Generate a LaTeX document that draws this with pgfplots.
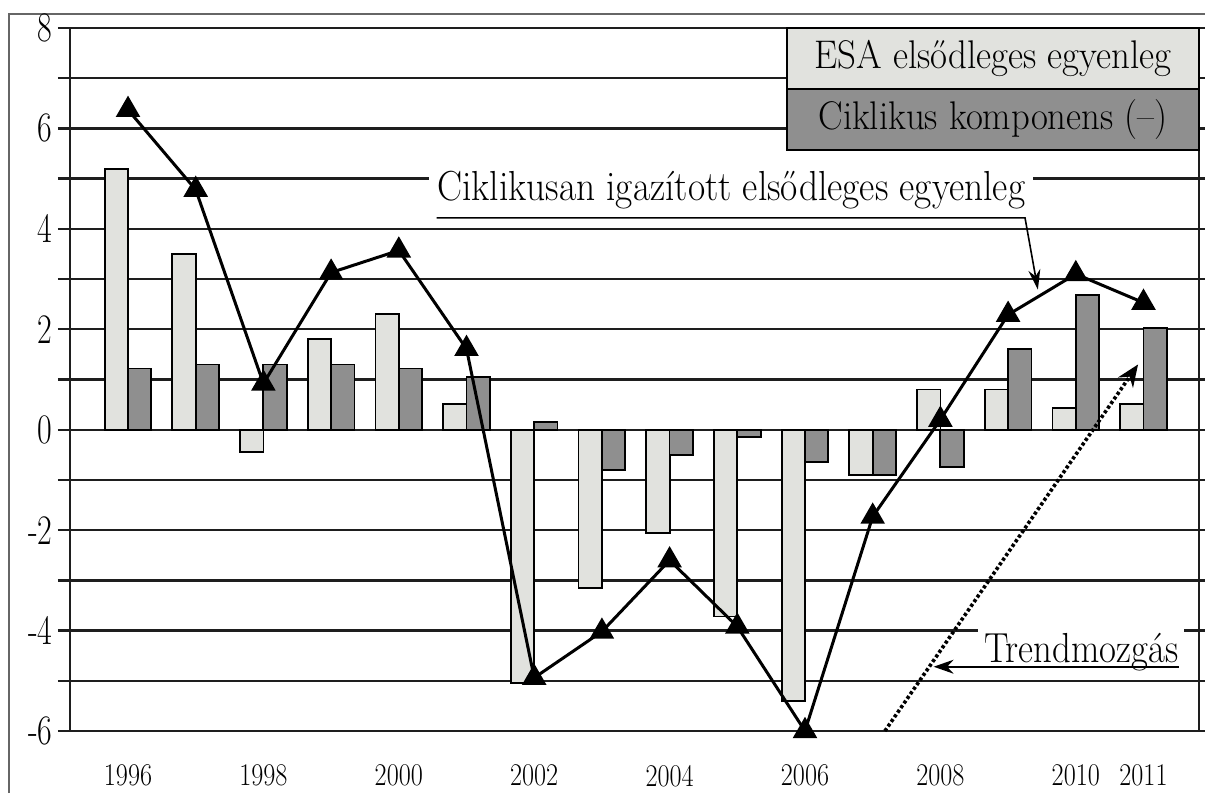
\documentclass[border=0pt]{standalone}
\usepackage{fontspec}
\usepackage{graphicx}
\usepackage{pgfplots}
\pgfplotsset{compat=1.18}
\usetikzlibrary{arrows.meta}
\definecolor{lightbar}{RGB}{225,226,222}
\definecolor{darkbar}{RGB}{143,143,143}
\definecolor{gridc}{RGB}{30,30,30}
\newcommand\bigtxt[3]{\resizebox{#1}{\height}{\fontsize{#2}{24}\selectfont\addfontfeatures{FakeBold=0.3}#3}}
\newcommand\yl[1]{\scalebox{0.76}[1]{\fontsize{21}{24}\selectfont\addfontfeatures{FakeBold=0.3}#1}}
\newcommand\yr[1]{\scalebox{0.83}[1]{\fontsize{15.8}{18}\selectfont\addfontfeatures{FakeBold=0.3}#1}}
\begin{document}
\begin{tikzpicture}
\path[use as bounding box] (-35pt,-31pt) rectangle (567.5pt,365.5pt);
\draw[black!60, line width=0.6pt] (-30.5pt,-31pt) -- (-30.5pt,358.5pt) -- (567.5pt,358.5pt);
\begin{axis}[
  at={(0,0)}, anchor=south west,
  scale only axis, width=564.5pt, height=351.5pt,
  xmin=-0.857, xmax=15.82, ymin=-6, ymax=8,
  ytick={-6,-5,-4,-3,-2,-1,0,1,2,3,4,5,6,7,8},
  yticklabels={{\yl{-6}},{},{\yl{-4}},{},{\yl{-2}},{},{\yl{0}},{},{\yl{2}},{},{\yl{4}},{},{\yl{6}},{},{\yl{8}}},
  xtick={0,2,4,6,8,10,12,14,15},
  xticklabels={\yr{1996},\yr{1998},\yr{2000},\yr{2002},\yr{2004},\yr{2006},\yr{2008},\yr{2010},\yr{2011}},
  tick align=outside, major tick length=6pt,
  ymajorgrids, grid style={gridc, line width=1.2pt},
  axis line style={gridc, line width=1.2pt},
  y tick style={gridc, line width=1.2pt},
  x tick style={draw=none},
  yticklabel style={inner sep=0pt, xshift=-2.5pt},
  xticklabel style={yshift=-7.5pt},
  clip=false,
]
\addplot[ybar, bar width=0.345, bar shift=-0.172, fill=lightbar, draw=black, line width=0.9pt] coordinates {
(0,5.2) (1,3.5) (2,-0.45) (3,1.8) (4,2.3) (5,0.52) (6,-5.05) (7,-3.15)
(8,-2.05) (9,-3.72) (10,-5.4) (11,-0.9) (12,0.8) (13,0.8) (14,0.44) (15,0.52)};
\addplot[ybar, bar width=0.345, bar shift=0.172, fill=darkbar, draw=black, line width=0.9pt] coordinates {
(0,1.22) (1,1.3) (2,1.3) (3,1.3) (4,1.22) (5,1.05) (6,0.15) (7,-0.8)
(8,-0.5) (9,-0.15) (10,-0.65) (11,-0.9) (12,-0.75) (13,1.6) (14,2.69) (15,2.03)};
\addplot[black, line width=1.5pt, mark=triangle*, mark size=5.6pt, mark options={solid}] coordinates {
(0,6.37) (1,4.78) (2,0.92) (3,3.13) (4,3.57) (5,1.61) (6,-4.94) (7,-4.02)
(8,-2.6) (9,-3.92) (10,-6.0) (11,-1.73) (12,0.2) (13,2.29) (14,3.1) (15,2.53)};
% trend arrow
\draw[black, line width=1.8pt, dash pattern=on 1.6pt off 1.2pt, -{Stealth[length=11pt,width=9pt]}]
  (axis cs:11.18,-6) -- (axis cs:14.92,1.3);
% annotation: cyclically adjusted
\node[fill=white, inner sep=4pt] at (axis cs:8.91,4.78) {\bigtxt{294pt}{21}{Ciklikusan igazított elsődleges egyenleg}};
\draw[black, line width=0.8pt, -{Stealth[length=10pt,width=6pt]}]
  (axis cs:4.56,4.22) -- (axis cs:13.25,4.22) -- (axis cs:13.44,2.79);
% annotation: trend
\node[fill=white, inner sep=3pt, anchor=base] at (axis cs:14.08,-4.64) {\bigtxt{97pt}{21}{Trendmozgás}};
\draw[black, line width=0.8pt, -{Stealth[length=10pt,width=7pt]}]
  (axis cs:15.52,-4.72) -- (axis cs:11.9,-4.72);
% legend
\draw[black, line width=1.1pt, fill=lightbar] (rel axis cs:0.635,1) rectangle (rel axis cs:1.0,0.913);
\draw[black, line width=1.1pt, fill=darkbar] (rel axis cs:0.635,0.913) rectangle (rel axis cs:1.0,0.826);
\node at (rel axis cs:0.8175,0.9565) {\bigtxt{178.5pt}{20}{ESA elsődleges egyenleg}};
\node at (rel axis cs:0.8175,0.8695) {\bigtxt{174.5pt}{20}{Ciklikus komponens (–)}};
\end{axis}
\end{tikzpicture}
\end{document}
